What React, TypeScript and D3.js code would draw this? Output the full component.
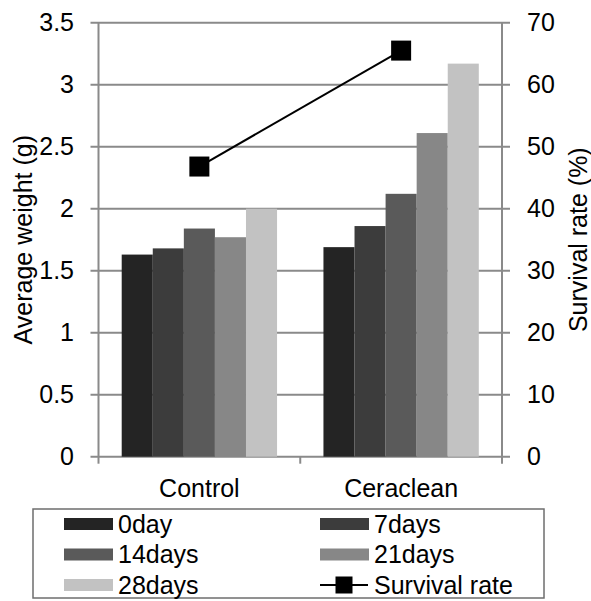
import React from "react";
import * as d3 from "d3";

// data
const categories = ["Control", "Ceraclean"];
const seriesNames = ["0day", "7days", "14days", "21days", "28days"];
const weight0day = [1.63, 1.69];
const weight7days = [1.68, 1.86];
const weight14days = [1.84, 2.12];
const weight21days = [1.77, 2.61];
const weight28days = [2.0, 3.17];
const survivalRate = [46.8, 65.5];
const leftTicks = [0, 0.5, 1, 1.5, 2, 2.5, 3, 3.5];
const rightTicks = [0, 10, 20, 30, 40, 50, 60, 70];

const seriesValues = [weight0day, weight7days, weight14days, weight21days, weight28days];
const colors = ["#242424", "#3c3c3c", "#5a5a5a", "#878787", "#c2c2c2"];

const W = 591;
const H = 601;
const left = 98.5;
const right = 502;
const top = 22.7;
const bottom = 456.7;
const font = "'Liberation Sans', Arial, sans-serif";
const grid = "#8a8a8a";

export default function App() {
  const y = d3.scaleLinear().domain([0, 3.5]).range([bottom, top]);
  const y2 = d3.scaleLinear().domain([0, 70]).range([bottom, top]);
  const x = d3.scaleBand().domain(categories).range([left, right]).paddingInner(0.23).paddingOuter(0.115);
  const xs = d3.scaleBand().domain(seriesNames).range([0, x.bandwidth()]);
  const cx = (c: string) => (x(c) as number) + x.bandwidth() / 2;

  const line = d3.line<number>()
    .x((_, i) => cx(categories[i]))
    .y(d => y2(d));

  const step = (right - left) / categories.length;
  const catEdges = d3.range(categories.length + 1).map(i => left + i * step);

  const legendItems = [...seriesNames.map((s, i) => ({ name: s, color: colors[i], line: false })), { name: "Survival rate", color: "#000", line: true }];

  return (
    <svg width={W} height={H} style={{ position: "absolute", left: 0, top: 0, background: "#fff" }} fontFamily={font}>
      {/* gridlines */}
      {leftTicks.map(t => (
        <line key={"g" + t} x1={left - 8} x2={right + 8} y1={y(t)} y2={y(t)} stroke={grid} strokeWidth={2} />
      ))}
      {/* axes */}
      <line x1={left} x2={left} y1={top} y2={bottom} stroke={grid} strokeWidth={2} />
      <line x1={right} x2={right} y1={top} y2={bottom} stroke={grid} strokeWidth={2} />
      {catEdges.map((e, i) => (
        <line key={"ct" + i} x1={e} x2={e} y1={bottom} y2={bottom + 7} stroke={grid} strokeWidth={2} />
      ))}

      {/* bars */}
      {seriesValues.map((vals, si) =>
        vals.map((v, ci) => (
          <rect key={si + "-" + ci}
            x={(x(categories[ci]) as number) + (xs(seriesNames[si]) as number)}
            y={y(v)} width={xs.bandwidth()} height={y(0) - y(v)} fill={colors[si]} />
        ))
      )}

      {/* survival line */}
      <path d={line(survivalRate) || ""} fill="none" stroke="#000" strokeWidth={2} />
      {survivalRate.map((v, i) => (
        <rect key={"m" + i} x={cx(categories[i]) - 10} y={y2(v) - 10} width={20} height={20} fill="#000" />
      ))}

      {/* tick labels */}
      {leftTicks.map(t => (
        <text key={"l" + t} x={74} y={y(t)} dy="0.35em" textAnchor="end" fontSize={25}>{t}</text>
      ))}
      {rightTicks.map(t => (
        <text key={"r" + t} x={527} y={y2(t)} dy="0.35em" textAnchor="start" fontSize={25}>{t}</text>
      ))}
      {categories.map(c => (
        <text key={c} x={cx(c)} y={497} textAnchor="middle" fontSize={25}>{c}</text>
      ))}

      {/* axis titles */}
      <text transform={`translate(32,${(top + bottom) / 2}) rotate(-90)`} textAnchor="middle" fontSize={25}>Average weight (g)</text>
      <text transform={`translate(587,${(top + bottom) / 2}) rotate(-90)`} textAnchor="middle" fontSize={25}>Survival rate (%)</text>

      {/* legend */}
      <rect x={33} y={509} width={511} height={89} fill="none" stroke="#6e6e6e" strokeWidth={1.5} />
      {legendItems.map((it, i) => {
        const col = i % 2;
        const row = Math.floor(i / 2);
        const sx = col === 0 ? 64 : 320;
        const cy = 524 + row * 30.5;
        return (
          <g key={it.name}>
            {it.line ? (
              <g>
                <line x1={sx} x2={sx + 48} y1={cy} y2={cy} stroke="#000" strokeWidth={2} />
                <rect x={sx + 24 - 8.5} y={cy - 8.5} width={17} height={17} fill="#000" />
              </g>
            ) : (
              <rect x={sx} y={cy - 6} width={49} height={12} fill={it.color} />
            )}
            <text x={sx + 54} y={cy} dy="0.35em" fontSize={25}>{it.name}</text>
          </g>
        );
      })}
    </svg>
  );
}
